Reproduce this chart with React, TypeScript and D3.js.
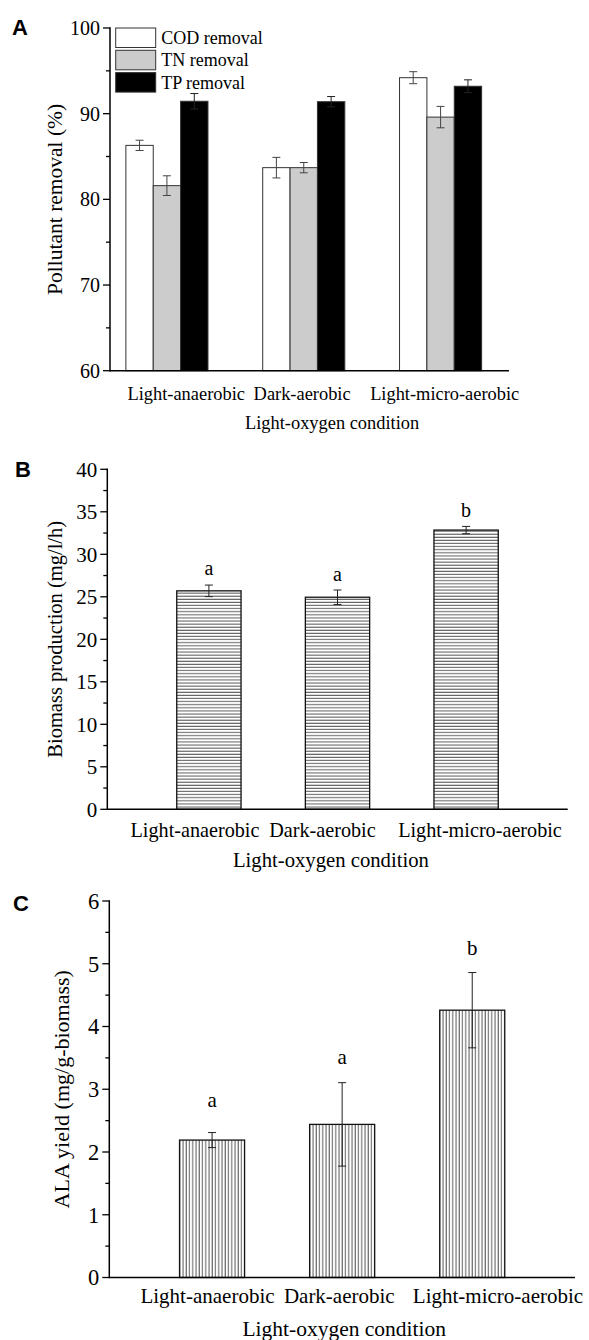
import React from "react";
import * as d3 from "d3";

// ---------- DATA ----------
const categories = ["Light-anaerobic", "Dark-aerobic", "Light-micro-aerobic"];
const removalSeries = ["COD removal", "TN removal", "TP removal"];
const codRemoval = [86.3, 83.7, 94.2];
const codErr = [0.6, 1.2, 0.7];
const tnRemoval = [81.6, 83.7, 89.6];
const tnErr = [1.15, 0.6, 1.25];
const tpRemoval = [91.45, 91.4, 93.2];
const tpErr = [0.9, 0.6, 0.75];

const biomass = [25.7, 24.95, 32.85];
const biomassErr = [0.68, 0.85, 0.43];
const biomassLetters = ["a", "a", "b"];
const biomassLetterY = [27.55, 26.85, 34.4];

const alaYield = [2.19, 2.44, 4.26];
const alaErr = [0.12, 0.665, 0.6];
const alaLetters = ["a", "a", "b"];
const alaLetterY = [2.72, 3.41, 5.14];

const ticksA = [60, 70, 80, 90, 100];
const ticksB = [0, 5, 10, 15, 20, 25, 30, 35, 40];
const ticksC = [0, 1, 2, 3, 4, 5, 6];

// ---------- STYLE / LAYOUT ----------
const SERIF = "'Liberation Serif', 'Times New Roman', serif";
const SANS = "'Liberation Sans', Arial, sans-serif";
const seriesFill = ["#ffffff", "#cccccc", "#000000"];

type AxisProps = {
  y: d3.ScaleLinear<number, number>;
  x0: number;
  x1: number;
  ticks: number[];
  minorStep: number;
  fontSize: number;
};

function YAxisFrame({ y, x0, x1, ticks, minorStep, fontSize }: AxisProps) {
  const [lo, hi] = y.domain();
  const minors: number[] = [];
  for (let v = lo; v <= hi + 1e-9; v += minorStep) {
    if (!ticks.some((t) => Math.abs(t - v) < 1e-9)) minors.push(v);
  }
  return (
    <g>
      <line x1={x0} x2={x0} y1={y(hi) - 0.75} y2={y(lo) + 0.75} stroke="#000" strokeWidth={1.5} />
      <line x1={x0} x2={x1} y1={y(lo)} y2={y(lo)} stroke="#000" strokeWidth={1.5} />
      {ticks.map((t) => (
        <g key={"t" + t}>
          <line x1={x0 - 7} x2={x0} y1={y(t)} y2={y(t)} stroke="#000" strokeWidth={1.3} />
          <text
            x={x0 - 10}
            y={y(t)}
            dy="0.35em"
            textAnchor="end"
            fontFamily={SERIF}
            fontSize={fontSize}
            fill="#000"
          >
            {t}
          </text>
        </g>
      ))}
      {minors.map((t) => (
        <line key={"m" + t} x1={x0 - 4} x2={x0} y1={y(t)} y2={y(t)} stroke="#000" strokeWidth={1.3} />
      ))}
    </g>
  );
}

function ErrorBar({ x, y0, y1, cap, color }: { x: number; y0: number; y1: number; cap: number; color: string }) {
  return (
    <g stroke={color} strokeWidth={1}>
      <line x1={x} x2={x} y1={y0} y2={y1} />
      <line x1={x - cap / 2} x2={x + cap / 2} y1={y0} y2={y0} />
      <line x1={x - cap / 2} x2={x + cap / 2} y1={y1} y2={y1} />
    </g>
  );
}

function PanelA() {
  const x0 = 110, x1 = 509;
  const y = d3.scaleLinear().domain([60, 100]).range([370.7, 28]);
  const x = d3.scaleLinear().domain([0.584, 3.5]).range([x0, x1]);
  const groupW = 0.6;
  const inner = d3.scaleBand<number>().domain([0, 1, 2]).range([-groupW / 2, groupW / 2]).padding(0);
  const values = [codRemoval, tnRemoval, tpRemoval];
  const errs = [codErr, tnErr, tpErr];
  const labelPos = [1.141, 1.988, 3.03];
  const titlePos = 2.207;
  const bw = x(inner.bandwidth()) - x(0);
  return (
    <g>
      <text x={12} y={35} fontFamily={SANS} fontWeight="bold" fontSize={22}>A</text>
      {values.map((vals, s) =>
        vals.map((v, i) => {
          const bx = x(i + 1 + (inner(s) as number));
          return (
            <rect
              key={`${s}-${i}`}
              x={bx}
              y={y(v)}
              width={bw}
              height={y(60) - y(v)}
              fill={seriesFill[s]}
              stroke="#333"
              strokeWidth={1}
            />
          );
        })
      )}
      {values.map((vals, s) =>
        vals.map((v, i) => {
          const cx = x(i + 1 + (inner(s) as number) + inner.bandwidth() / 2);
          return (
            <ErrorBar
              key={`e${s}-${i}`}
              x={cx}
              y0={y(v + errs[s][i])}
              y1={y(v - errs[s][i])}
              cap={8}
              color={s === 2 ? "#222" : "#444"}
            />
          );
        })
      )}
      <YAxisFrame y={y} x0={x0} x1={x1} ticks={ticksA} minorStep={5} fontSize={20} />
      {/* legend */}
      {removalSeries.map((name, s) => (
        <g key={name} transform={`translate(115.7, ${28 + s * 22.3})`}>
          <rect x={0} y={0} width={40} height={19.5} fill={seriesFill[s]} stroke="#333" strokeWidth={1} />
          <text x={45.5} y={16} fontFamily={SERIF} fontSize={18}>{name}</text>
        </g>
      ))}
      {categories.map((c, i) => (
        <text key={c} x={x(labelPos[i])} y={400} textAnchor="middle" fontFamily={SERIF} fontSize={18.4}>{c}</text>
      ))}
      <text x={x(titlePos)} y={429} textAnchor="middle" fontFamily={SERIF} fontSize={18.4}>Light-oxygen condition</text>
      <text transform={`translate(62, ${y(80)}) rotate(-90)`} textAnchor="middle" fontFamily={SERIF} fontSize={21.5}>
        Pollutant removal (%)
      </text>
    </g>
  );
}

type SinglePanelProps = {
  letter: string;
  letterPos: [number, number];
  values: number[];
  errs: number[];
  letters: string[];
  letterY: number[];
  yDomain: [number, number];
  yRange: [number, number];
  xRange: [number, number];
  ticks: number[];
  minorStep: number;
  tickFont: number;
  labelFont: number;
  labelPos: number[];
  labelBaseline: number;
  titlePos: number;
  titleBaseline: number;
  yTitle: string;
  yTitleX: number;
  yTitleFont: number;
  patternId: string;
  letterFont: number;
};

function SinglePanel(p: SinglePanelProps) {
  const y = d3.scaleLinear().domain(p.yDomain).range(p.yRange);
  const x = d3.scaleLinear().domain([0.21, 3.79]).range(p.xRange);
  const barW = 0.5;
  const bw = x(barW) - x(0);
  const [lo, hi] = p.yDomain;
  return (
    <g>
      <text x={p.letterPos[0]} y={p.letterPos[1]} fontFamily={SANS} fontWeight="bold" fontSize={22}>{p.letter}</text>
      {p.values.map((v, i) => (
        <rect
          key={i}
          x={x(i + 1 - barW / 2)}
          y={y(v)}
          width={bw}
          height={y(lo) - y(v)}
          fill={`url(#${p.patternId})`}
          stroke="#111"
          strokeWidth={1.3}
        />
      ))}
      {p.values.map((v, i) => (
        <ErrorBar key={"e" + i} x={x(i + 1)} y0={y(v + p.errs[i])} y1={y(v - p.errs[i])} cap={8} color="#222" />
      ))}
      {p.letters.map((l, i) => (
        <text key={"l" + i} x={x(i + 1)} y={y(p.letterY[i])} textAnchor="middle" fontFamily={SERIF} fontSize={p.letterFont}>{l}</text>
      ))}
      <YAxisFrame y={y} x0={p.xRange[0]} x1={p.xRange[1]} ticks={p.ticks} minorStep={p.minorStep} fontSize={p.tickFont} />
      {categories.map((c, i) => (
        <text key={c} x={x(p.labelPos[i])} y={p.labelBaseline} textAnchor="middle" fontFamily={SERIF} fontSize={p.labelFont}>{c}</text>
      ))}
      <text x={x(p.titlePos)} y={p.titleBaseline} textAnchor="middle" fontFamily={SERIF} fontSize={p.labelFont + 0.5}>
        Light-oxygen condition
      </text>
      <text
        transform={`translate(${p.yTitleX}, ${y((lo + hi) / 2)}) rotate(-90)`}
        textAnchor="middle"
        fontFamily={SERIF}
        fontSize={p.yTitleFont}
      >
        {p.yTitle}
      </text>
    </g>
  );
}

export default function App() {
  return (
    <svg
      width={589}
      height={1340}
      viewBox="0 0 589 1340"
      style={{ position: "absolute", left: 0, top: 0, background: "#fff", display: "block" }}
    >
      <defs>
        <pattern id="hlines" patternUnits="userSpaceOnUse" width={8} height={3.1}>
          <rect width={8} height={3.1} fill="#fff" />
          <line x1={0} x2={8} y1={1} y2={1} stroke="#555" strokeWidth={1} />
        </pattern>
        <pattern id="vlines" patternUnits="userSpaceOnUse" width={3.25} height={8}>
          <rect width={3.25} height={8} fill="#fff" />
          <line x1={1} x2={1} y1={0} y2={8} stroke="#555" strokeWidth={1} />
        </pattern>
      </defs>
      <rect width={589} height={1340} fill="#fff" />
      <PanelA />
      <SinglePanel
        letter="B"
        letterPos={[15, 477]}
        values={biomass}
        errs={biomassErr}
        letters={biomassLetters}
        letterY={biomassLetterY}
        yDomain={[0, 40]}
        yRange={[809.3, 469.3]}
        xRange={[107.3, 567.7]}
        ticks={ticksB}
        minorStep={2.5}
        tickFont={21}
        labelFont={20.2}
        labelPos={[0.892, 1.883, 3.108]}
        labelBaseline={836.5}
        titlePos={1.949}
        titleBaseline={866.5}
        yTitle="Biomass production (mg/l/h)"
        yTitleX={62}
        yTitleFont={20.5}
        patternId="hlines"
        letterFont={20}
      />
      <SinglePanel
        letter="C"
        letterPos={[13, 910.7]}
        values={alaYield}
        errs={alaErr}
        letters={alaLetters}
        letterY={alaLetterY}
        yDomain={[0, 6]}
        yRange={[1277.5, 901]}
        xRange={[109.3, 575]}
        ticks={ticksC}
        minorStep={0.5}
        tickFont={22.5}
        labelFont={21}
        labelPos={[0.965, 1.978, 3.198]}
        labelBaseline={1302.7}
        titlePos={2.016}
        titleBaseline={1336}
        yTitle="ALA yield (mg/g-biomass)"
        yTitleX={69}
        yTitleFont={22}
        patternId="vlines"
        letterFont={21}
      />
    </svg>
  );
}
